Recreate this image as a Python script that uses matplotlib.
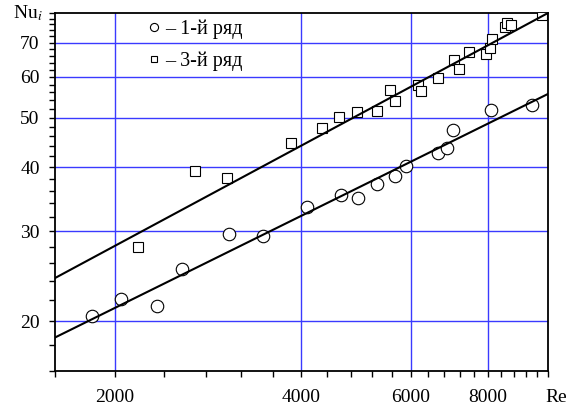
import numpy as np
import matplotlib
matplotlib.use("Agg")
import matplotlib.pyplot as plt
from matplotlib.ticker import FixedLocator, NullFormatter, FixedFormatter

plt.rcParams['font.family'] = ['Liberation Serif', 'DejaVu Serif']
plt.rcParams['mathtext.fontset'] = 'stix'

# 1-й ряд (circles)
re_row1 = [1835, 2045, 2338, 2566, 3055, 3467, 4083, 4633, 4935, 5297,
           5662, 5899, 6643, 6871, 7026, 8091, 9424]
nu_row1 = [20.5, 22.1, 21.4, 25.3, 29.6, 29.4, 33.4, 35.3, 34.8, 37.1,
           38.5, 40.2, 42.6, 43.6, 47.3, 51.7, 52.9]

# 3-й ряд (squares)
re_row3 = [2178, 2692, 3033, 3847, 4317, 4598, 4917, 5297, 5558, 5662,
           6167, 6237, 6643, 7052, 7183, 7456, 7942, 8062, 8122, 8524,
           8600, 8716, 9779]
nu_row3 = [27.9, 39.3, 38.1, 44.6, 47.7, 50.1, 51.3, 51.5, 56.6, 53.9,
           57.9, 56.4, 59.8, 64.8, 62.2, 67.2, 66.6, 68.4, 71.2, 75.2,
           76.5, 75.8, 79.3]

# approximating lines (end points)
fit_re = [1600, 10000]
fit_nu1 = [18.6, 55.6]
fit_nu3 = [24.3, 80.0]

x_major = [2000, 4000, 6000, 8000]
y_major = [20, 30, 40, 50, 60, 70]
legend_labels = ['– 1-й ряд', '– 3-й ряд']

fig = plt.figure(figsize=(5.67, 4.07), dpi=100)
ax = fig.add_axes([55 / 567, 36 / 407, 493 / 567, 358 / 407])
ax.set_xscale('log')
ax.set_yscale('log')
ax.set_xlim(1600, 10000)
ax.set_ylim(16, 80)

h1, = ax.plot(re_row1, nu_row1, 'o', ms=9, mfc='white', mec='black', mew=0.8,
              zorder=3)
h3, = ax.plot(re_row3, nu_row3, 's', ms=7.5, mfc='white', mec='black', mew=0.8,
              zorder=3)
ax.plot(fit_re, fit_nu1, color='black', lw=1.5, zorder=4)
ax.plot(fit_re, fit_nu3, color='black', lw=1.5, zorder=4)

ax.xaxis.set_major_locator(FixedLocator(x_major))
ax.xaxis.set_major_formatter(FixedFormatter([str(v) for v in x_major]))
ax.xaxis.set_minor_locator(FixedLocator(np.arange(1600, 10001, 400)))
ax.xaxis.set_minor_formatter(NullFormatter())
ax.yaxis.set_major_locator(FixedLocator(y_major))
ax.yaxis.set_major_formatter(FixedFormatter([str(v) for v in y_major]))
ax.yaxis.set_minor_locator(FixedLocator(np.arange(16, 81, 2)))
ax.yaxis.set_minor_formatter(NullFormatter())

ax.grid(True, which='major', color='#3a3aff', lw=1.0, zorder=1)
ax.tick_params(which='both', direction='out', length=4, width=1, labelsize=14)
ax.tick_params(axis='x', pad=9)
ax.tick_params(axis='y', pad=7)
for sp in ax.spines.values():
    sp.set_linewidth(1.3)

ax.legend([h1, h3], legend_labels, loc='upper left',
          bbox_to_anchor=(0.185, 0.983), frameon=False, handlelength=0.8,
          handletextpad=0.15, borderpad=0, borderaxespad=0, labelspacing=0.62,
          markerscale=0.65, fontsize=14.5)

fig.text(13 / 567, 1 - 13 / 407, 'Nu$_i$', fontsize=14, va='center', ha='left')
fig.text(545 / 567, 1 - 397 / 407, 'Re', fontsize=14, va='center', ha='left')

fig.savefig('out.png', dpi=100)
